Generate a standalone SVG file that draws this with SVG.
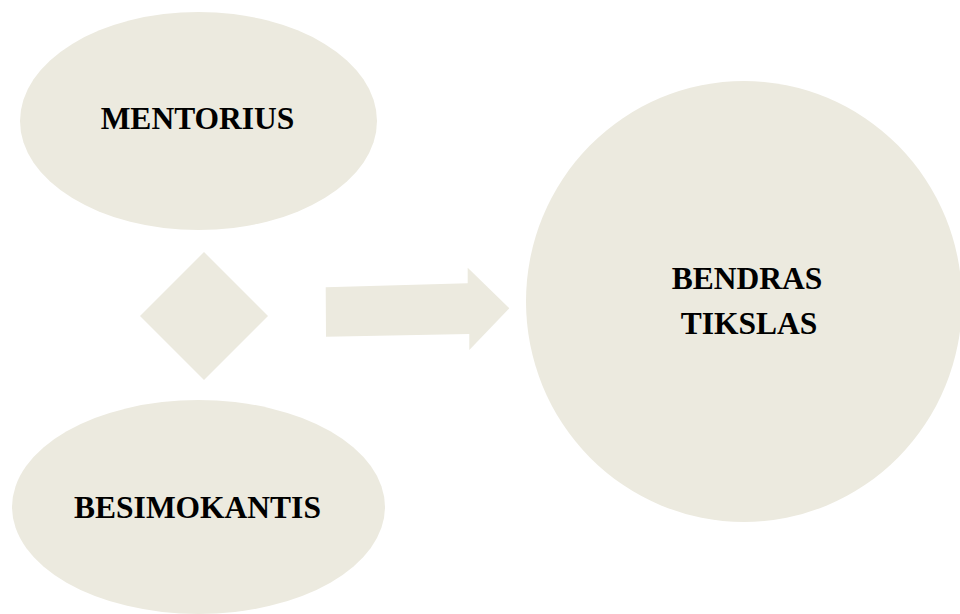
<svg xmlns="http://www.w3.org/2000/svg" width="960" height="614" viewBox="0 0 960 614">
<style>
.shape{fill:#ECEADF;stroke:none}
.lbl{font-family:"Liberation Serif","Times New Roman",serif;font-weight:bold;font-size:31.5px;fill:#000;text-anchor:middle}
</style>
<rect width="960" height="614" fill="#FFFFFF"/>
<g id="mentorius">
<ellipse class="shape" cx="198.5" cy="121" rx="178.5" ry="109"/>
<text class="lbl" x="197.5" y="129">MENTORIUS</text>
</g>
<g id="besimokantis">
<ellipse class="shape" cx="198.5" cy="507" rx="186.5" ry="107"/>
<text class="lbl" x="197.5" y="518">BESIMOKANTIS</text>
</g>
<g id="diamond">
<polygon class="shape" points="204,252 268,316 204,380 140,316"/>
</g>
<g id="bendras-tikslas">
<ellipse class="shape" cx="744" cy="301.5" rx="218" ry="220.5"/>
<text class="lbl" x="747" y="288.5">BENDRAS</text>
<text class="lbl" x="749" y="334">TIKSLAS</text>
</g>
<g id="connectors">
<polygon class="shape" points="325.7,287.3 467.7,283.3 467.7,267.7 509.3,308.3 469.3,350 469.3,334 326,336.7"/>
</g>
</svg>
